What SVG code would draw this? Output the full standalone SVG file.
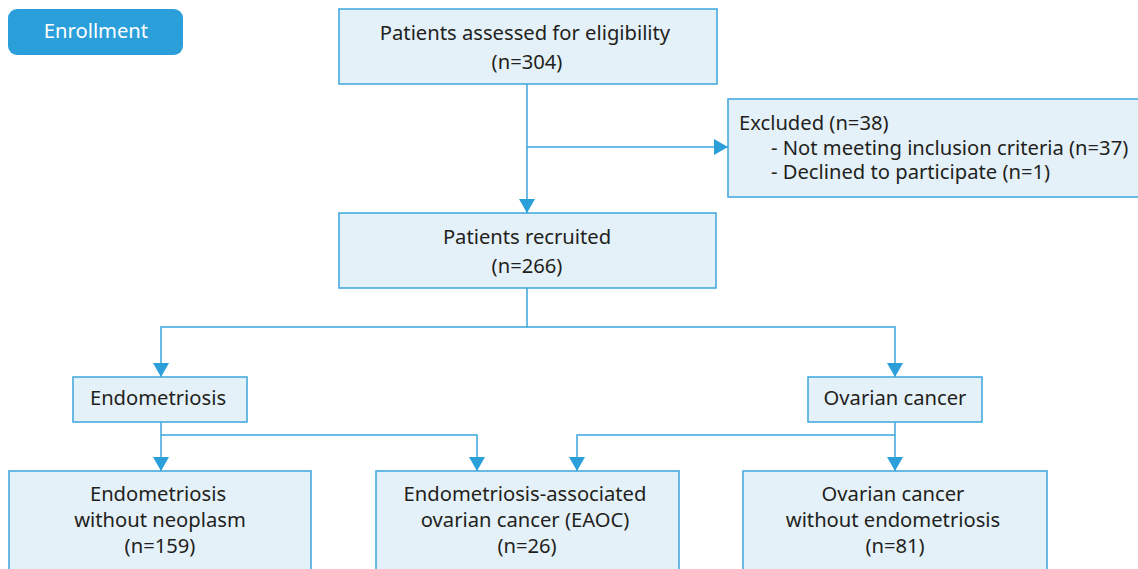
<svg xmlns="http://www.w3.org/2000/svg" width="1138" height="569" viewBox="0 0 1138 569">
<style>
.box{fill:#e4f1f8;stroke:#3ba6dd;stroke-width:1.5}
.t{font-family:"Noto Sans","Liberation Sans",sans-serif;font-size:20.2px;fill:#231f20}
.c{text-anchor:middle}
.ln{fill:none;stroke:#3ba6dd;stroke-width:1.5}
</style>
<defs>
<marker id="ah" markerUnits="userSpaceOnUse" markerWidth="15" markerHeight="16" refX="14" refY="8" orient="auto" viewBox="0 0 15 16">
<path d="M0,0 L14,8 L0,16 Z" fill="#2a9fd8"/>
</marker>
</defs>
<rect width="1138" height="569" fill="#ffffff"/>
<g id="enrollment">
<rect x="8" y="9" width="175" height="46" rx="9" fill="#2b9fda"/>
<text class="t c" x="96" y="38" style="fill:#ffffff">Enrollment</text>
</g>
<g id="connectors">
<path class="ln" d="M527,84 V213" marker-end="url(#ah)"/>
<path class="ln" d="M527,147 H728" marker-end="url(#ah)"/>
<path class="ln" d="M527,288 V327 H161 V377" marker-end="url(#ah)"/>
<path class="ln" d="M527,327 H895 V377" marker-end="url(#ah)"/>
<path class="ln" d="M161,422 V471" marker-end="url(#ah)"/>
<path class="ln" d="M161,435 H477 V471" marker-end="url(#ah)"/>
<path class="ln" d="M895,422 V471" marker-end="url(#ah)"/>
<path class="ln" d="M895,435 H577 V471" marker-end="url(#ah)"/>
</g>
<g id="assessed">
<rect class="box" x="339" y="9" width="378" height="75"/>
<text class="t c" x="525" y="40">Patients assessed for eligibility</text>
<text class="t c" x="527" y="69">(n=304)</text>
</g>
<g id="excluded">
<rect class="box" x="728" y="99" width="414" height="98"/>
<text class="t" x="739" y="130">Excluded (n=38)</text>
<text class="t" x="771" y="155">- Not meeting inclusion criteria (n=37)</text>
<text class="t" x="771" y="179">- Declined to participate (n=1)</text>
</g>
<g id="recruited">
<rect class="box" x="339" y="213" width="377" height="75"/>
<text class="t c" x="527" y="244">Patients recruited</text>
<text class="t c" x="527" y="273">(n=266)</text>
</g>
<g id="endometriosis">
<rect class="box" x="73" y="377" width="174" height="45"/>
<text class="t c" x="158" y="405">Endometriosis</text>
</g>
<g id="ovarian">
<rect class="box" x="808" y="377" width="174" height="45"/>
<text class="t c" x="895" y="405">Ovarian cancer</text>
</g>
<g id="endo-no-neo">
<rect class="box" x="9" y="471" width="302" height="110"/>
<text class="t c" x="158" y="501">Endometriosis</text>
<text class="t c" x="160" y="527">without neoplasm</text>
<text class="t c" x="160" y="553">(n=159)</text>
</g>
<g id="eaoc">
<rect class="box" x="376" y="471" width="303" height="110"/>
<text class="t c" x="525" y="501">Endometriosis-associated</text>
<text class="t c" x="525" y="527">ovarian cancer (EAOC)</text>
<text class="t c" x="527" y="553">(n=26)</text>
</g>
<g id="ovarian-no-endo">
<rect class="box" x="743" y="471" width="304" height="110"/>
<text class="t c" x="893" y="501">Ovarian cancer</text>
<text class="t c" x="893" y="527">without endometriosis</text>
<text class="t c" x="895" y="553">(n=81)</text>
</g>
</svg>
